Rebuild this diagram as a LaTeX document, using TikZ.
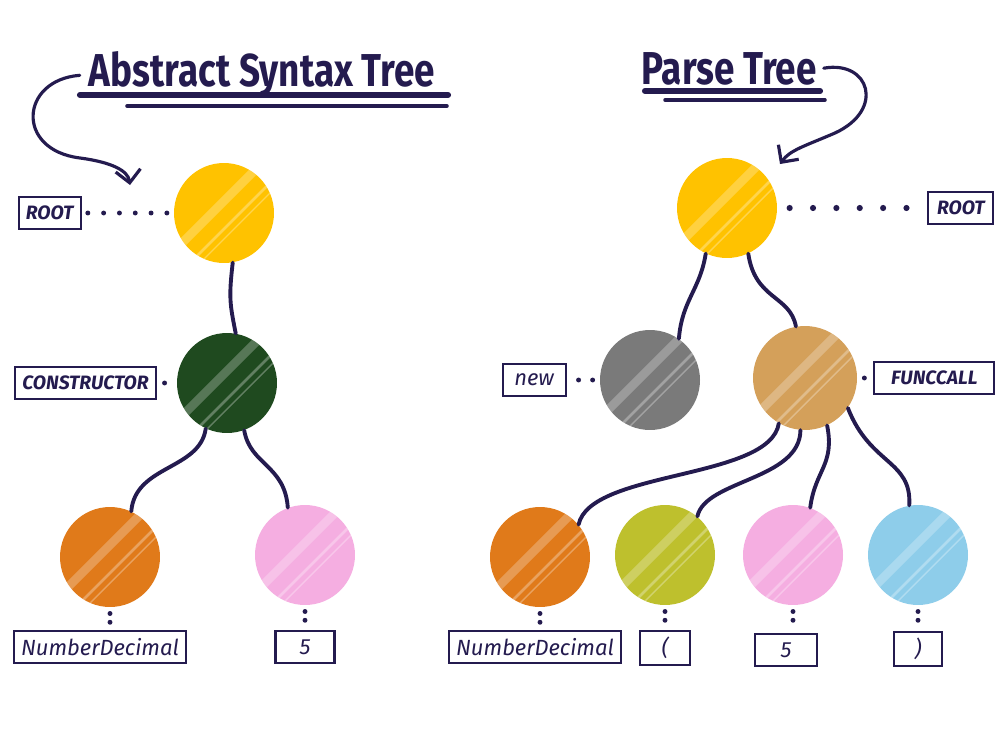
\documentclass[tikz,border=0pt]{standalone}
\usepackage{fontspec}
\setmainfont{Fira Sans}
\usepackage{tikz}
\usetikzlibrary{arrows.meta, positioning, calc}
\usepackage{xcolor}
\definecolor{inkcolor}{RGB}{36,27,79}
\definecolor{rootcolor}{RGB}{255,194,0}
\definecolor{conscolor}{RGB}{31,74,31}
\definecolor{numcolor}{RGB}{224,122,26}
\definecolor{fivecolor}{RGB}{245,174,225}
\definecolor{newcolor}{RGB}{122,122,122}
\definecolor{callcolor}{RGB}{212,160,90}
\definecolor{parencolor}{RGB}{190,192,45}
\definecolor{closecolor}{RGB}{142,205,234}

\begin{document}
\begin{tikzpicture}[
    x=0.02cm, y=-0.02cm,
    ball/.style={circle, fill=#1, minimum size=2cm, inner sep=0pt, path picture={
        \draw[white, opacity=0.25, line width=5pt] ($(path picture bounding box.center)+(-56,44)$) -- ++(100,-100);
        \draw[white, opacity=0.3, line width=1.5pt] ($(path picture bounding box.center)+(-42,58)$) -- ++(100,-100);
        \draw[white, opacity=0.3, line width=0.8pt] ($(path picture bounding box.center)+(-37,63)$) -- ++(100,-100);
    }},
    lbl/.style={draw=inkcolor, line width=1.2pt, text=inkcolor, minimum height=0.64cm, inner xsep=4pt, font=\fontsize{12.5}{14}\selectfont\itshape},
    capslbl/.style={lbl, font=\fontsize{11}{13}\selectfont\itshape\bfseries},
    edge/.style={draw=inkcolor, line width=2.2pt, line cap=round},
    dots/.style={draw=inkcolor, line width=2.8pt, line cap=round, dash pattern=on 0pt off 9pt},
    pointer/.style={draw=inkcolor, line width=1.8pt, line cap=round, -{Straight Barb[length=2.5mm, width=5mm]}},
    underline/.style={draw=inkcolor, line cap=round},
    headline/.style={text=inkcolor, anchor=base, inner sep=0pt, font=\fontsize{21}{26}\selectfont\bfseries}
]
\fill[white] (0,0) rectangle (1000,750);
\useasboundingbox (0,0) rectangle (1000,750);

% titles
\node[headline] (ltitle) at (262,87) {\scalebox{1}[1.25]{Abstract Syntax Tree}};
\node[headline] (ptitle) at (729,85) {\scalebox{1}[1.25]{Parse Tree}};
\draw[underline, line width=3.5pt] (80,95) -- (448,95);
\draw[underline, line width=2pt] (127,106) -- (447,106);
\draw[underline, line width=3.5pt] (645,91) -- (820,91);
\draw[underline, line width=2pt] (665,100) -- (825,100);

% abstract syntax tree
\node[ball=rootcolor] (lroot) at (224,213) {};
\node[ball=conscolor] (lcons) at (227,383) {};
\node[ball=numcolor] (lnum) at (110,557) {};
\node[ball=fivecolor] (lfive) at (305,555) {};

\node[capslbl, minimum width=1.24cm, left=1.84cm of lroot] (lrootlbl) {ROOT};
\node[capslbl, minimum width=2.74cm, left=0.4cm of lcons] (lconslbl) {CONSTRUCTOR};
\node[lbl, minimum width=3.2cm, below=0.46cm of lnum, xshift=-0.2cm] (lnumlbl) {NumberDecimal};
\node[lbl, minimum width=1.18cm, below=0.5cm of lfive] (lfivelbl) {5};

\coordinate (lpoint) at (130,185);
\draw[pointer, shorten <=5pt] (ltitle.west) .. controls (20,80) and (15,150) .. (80,158) .. controls (110,162) and (128,170) .. (lpoint);

\draw[edge] (lroot.-80) .. controls +(-4,35) and +(-6,-30) .. (lcons.80);
\draw[edge] (lcons.-115) .. controls (200,470) and (135,465) .. (lnum.65);
\draw[edge] (lcons.-70) .. controls (250,465) and (285,465) .. (lfive.110);

\draw[dots, shorten <=3.5pt, shorten >=3.5pt] (lrootlbl.east) -- (lroot.west);
\draw[dots, shorten <=4.5pt, shorten >=4.5pt] (lconslbl.east) -- (lcons.west);
\draw[dots, dash pattern=on 0pt off 5pt, shorten <=3.5pt, shorten >=3.5pt] (lnum.south) -- (lnum.south |- lnumlbl.north);
\draw[dots, dash pattern=on 0pt off 5pt, shorten <=3.5pt, shorten >=3.5pt] (lfive.south) -- (lfivelbl.north);

% parse tree
\node[ball=rootcolor] (proot) at (727,208) {};
\node[ball=newcolor] (pnew) at (650,380) {};
\node[ball=callcolor, minimum size=2.08cm] (pcall) at (805,378) {};
\node[ball=numcolor] (pnum) at (540,557) {};
\node[ball=parencolor] (popen) at (665,555) {};
\node[ball=fivecolor] (pfive) at (793,555) {};
\node[ball=closecolor] (pclose) at (918,555) {};

\node[capslbl, minimum width=1.3cm, right=3cm of proot] (prootlbl) {ROOT};
\node[lbl, minimum width=1.26cm, left=0.66cm of pnew] (pnewlbl) {new};
\node[capslbl, minimum width=2.4cm, right=0.32cm of pcall] (pcalllbl) {FUNCCALL};
\node[lbl, minimum width=3.22cm, below=0.46cm of pnum, xshift=-0.1cm] (pnumlbl) {NumberDecimal};
\node[lbl, minimum width=1cm, below=0.5cm of popen] (popenlbl) {(};
\node[lbl, minimum width=1.24cm, below=0.56cm of pfive, xshift=-0.14cm] (pfivelbl) {5};
\node[lbl, minimum width=0.96cm, below=0.52cm of pclose] (pcloselbl) {)};

\coordinate (ppoint) at (780,164);
\draw[pointer, shorten <=4pt] (ptitle.east) .. controls (870,60) and (885,110) .. (835,133) .. controls (805,146) and (790,150) .. (ppoint);

\draw[edge] (proot.-115) .. controls (700,290) and (682,300) .. (pnew.55);
\draw[edge] (proot.-65) .. controls (755,300) and (790,295) .. (pcall.100);
\draw[edge] (pcall.-120) .. controls (770,480) and (590,470) .. (pnum.40);
\draw[edge] (pcall.-95) .. controls (800,480) and (705,480) .. (popen.50);
\draw[edge] (pcall.-65) .. controls (835,465) and (815,470) .. (pfive.70);
\draw[edge] (pcall.-35) .. controls (870,465) and (912,460) .. (pclose.100);

\draw[dots, dash pattern=on 0pt off 13.3pt, line width=3.5pt, shorten <=7pt, shorten >=10pt] (proot.east) -- (prootlbl.west);
\draw[dots, dash pattern=on 0pt off 8pt, shorten <=4pt, shorten >=6.3pt] (pnew.west) -- (pnewlbl.east);
\draw[dots, shorten <=4pt, shorten >=4pt] (pcall.east) -- (pcalllbl.west);
\draw[dots, dash pattern=on 0pt off 5pt, shorten <=3.5pt, shorten >=3.5pt] (pnum.south) -- (pnum.south |- pnumlbl.north);
\draw[dots, dash pattern=on 0pt off 5pt, shorten <=3.5pt, shorten >=3.5pt] (popen.south) -- (popenlbl.north);
\draw[dots, dash pattern=on 0pt off 5pt, shorten <=3.5pt, shorten >=3.5pt] (pfive.south) -- (pfive.south |- pfivelbl.north);
\draw[dots, dash pattern=on 0pt off 5pt, shorten <=3.5pt, shorten >=3.5pt] (pclose.south) -- (pcloselbl.north);
\end{tikzpicture}
\end{document}
